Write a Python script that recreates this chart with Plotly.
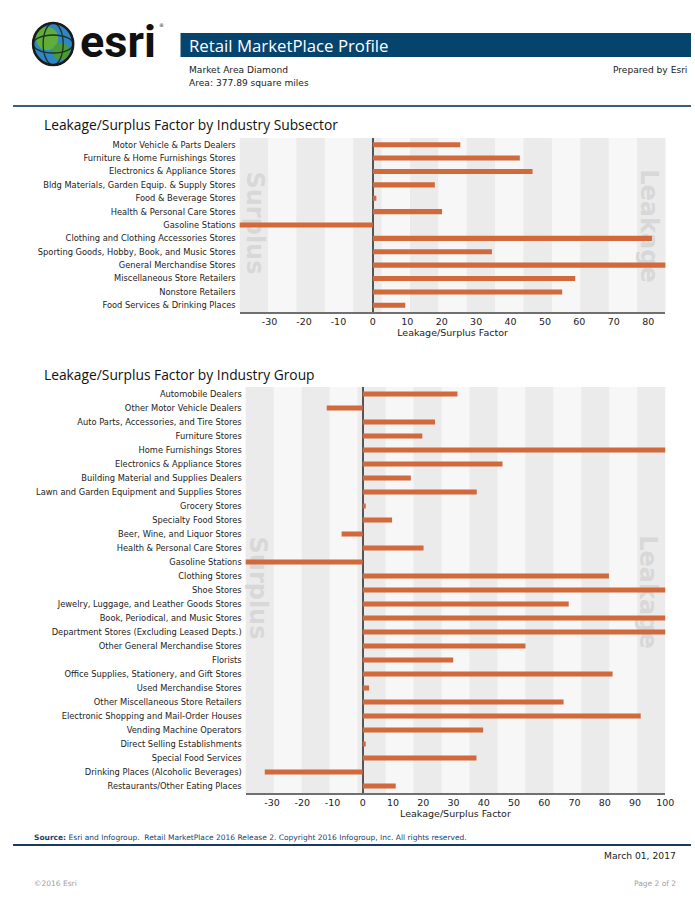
import plotly.graph_objects as go

# ---------------- data ----------------
subsector_labels = [
    "Motor Vehicle & Parts Dealers",
    "Furniture & Home Furnishings Stores",
    "Electronics & Appliance Stores",
    "Bldg Materials, Garden Equip. & Supply Stores",
    "Food & Beverage Stores",
    "Health & Personal Care Stores",
    "Gasoline Stations",
    "Clothing and Clothing Accessories Stores",
    "Sporting Goods, Hobby, Book, and Music Stores",
    "General Merchandise Stores",
    "Miscellaneous Store Retailers",
    "Nonstore Retailers",
    "Food Services & Drinking Places",
]
subsector_values = [25.4, 42.7, 46.4, 18.0, 1.0, 20.1, -41.0, 81.1, 34.6, 88.0, 58.8, 55.0, 9.4]

group_labels = [
    "Automobile Dealers",
    "Other Motor Vehicle Dealers",
    "Auto Parts, Accessories, and Tire Stores",
    "Furniture Stores",
    "Home Furnishings Stores",
    "Electronics & Appliance Stores",
    "Building Material and Supplies Dealers",
    "Lawn and Garden Equipment and Supplies Stores",
    "Grocery Stores",
    "Specialty Food Stores",
    "Beer, Wine, and Liquor Stores",
    "Health & Personal Care Stores",
    "Gasoline Stations",
    "Clothing Stores",
    "Shoe Stores",
    "Jewelry, Luggage, and Leather Goods Stores",
    "Book, Periodical, and Music Stores",
    "Department Stores (Excluding Leased Depts.)",
    "Other General Merchandise Stores",
    "Florists",
    "Office Supplies, Stationery, and Gift Stores",
    "Used Merchandise Stores",
    "Other Miscellaneous Store Retailers",
    "Electronic Shopping and Mail-Order Houses",
    "Vending Machine Operators",
    "Direct Selling Establishments",
    "Special Food Services",
    "Drinking Places (Alcoholic Beverages)",
    "Restaurants/Other Eating Places",
]
group_values = [31.3, -11.9, 23.9, 19.7, 105.0, 46.2, 15.9, 37.7, 1.0, 9.7, -7.0, 20.1,
                -41.0, 81.4, 105.0, 68.1, 105.0, 105.0, 53.8, 29.9, 82.6, 2.1, 66.4,
                91.9, 39.8, 1.0, 37.6, -32.4, 10.9]

top_ticks = [-30, -20, -10, 0, 10, 20, 30, 40, 50, 60, 70, 80]
top_tick_labels = ["-30", "-20", "-10", "0", "10", "20", "30", "40", "50", "60", "70", "80"]
bottom_ticks = [-30, -20, -10, 0, 10, 20, 30, 40, 50, 60, 70, 80, 90, 100]
bottom_tick_labels = ["-30", "-20", "-10", "0", "10", "20", "30", "40", "50", "60", "70",
                      "80", "90", "100"]

# ---------------- styling helpers ----------------
REF_W, H = 695, 900      # reference pixel grid
FIG_W = 706              # figure width (compensates horizontal compression seen in capture)
BAR = "#D2693B"
FONT = "DejaVu Sans"
TITLE_FONT = "Open Sans"


def px(x):
    return x / REF_W


def py(y):
    return 1 - y / H


fig = go.Figure()
fig.add_trace(go.Bar(x=subsector_values, y=subsector_labels, orientation="h",
                     marker=dict(color=BAR, line=dict(width=0)), width=0.38,
                     xaxis="x", yaxis="y", showlegend=False))
fig.add_trace(go.Bar(x=group_values, y=group_labels, orientation="h",
                     marker=dict(color=BAR, line=dict(width=0)), width=0.36,
                     xaxis="x2", yaxis="y2", showlegend=False))

common_x = dict(showgrid=False, zeroline=True, zerolinecolor="#555555", zerolinewidth=1.5,
                showline=True, linecolor="#707070", linewidth=2, ticks="",
                tickfont=dict(family=FONT, size=9.5, color="#222222"),
                title=dict(text="Leakage/Surplus Factor",
                           font=dict(family=FONT, size=9.5, color="#222222"), standoff=2),
                fixedrange=True)
common_y = dict(showgrid=False, zeroline=False, showline=False, ticks="",
                autorange="reversed", ticklabelstandoff=3,
                tickfont=dict(family=FONT, size=8.3, color="#222222"), fixedrange=True)

shapes = []
for ax in ["", "2"]:
    for i in range(0, 15, 2):
        shapes.append(dict(type="rect", xref=f"x{ax} domain", yref=f"y{ax} domain",
                           x0=i / 15, x1=(i + 1) / 15, y0=0, y1=1,
                           fillcolor="#ebebeb", line=dict(width=0), layer="below"))


def watermark(text, xc, yc, length):
    return dict(type="rect", xref="paper", yref="paper",
                x0=px(xc - 14), x1=px(xc + 14), y0=py(yc + length / 2), y1=py(yc - length / 2),
                fillcolor="rgba(0,0,0,0)", line=dict(width=0), layer="below",
                label=dict(text=text, textangle=90, textposition="middle center",
                           font=dict(family=FONT, size=24, color="#d8d8d8", weight="bold")))


shapes += [
    watermark("Surplus", 256, 223, 110),
    watermark("Leakage", 649, 226, 120),
    watermark("Surplus", 259, 588, 110),
    watermark("Leakage", 648, 592, 120),
]

# header graphics
shapes += [
    dict(type="rect", xref="paper", yref="paper", x0=px(180), x1=px(689), y0=py(57), y1=py(33),
         fillcolor="#06446E", line=dict(width=0)),
    dict(type="line", xref="paper", yref="paper", x0=px(13), x1=px(689), y0=py(106), y1=py(106),
         line=dict(color="#3d5c78", width=2)),
    dict(type="line", xref="paper", yref="paper", x0=px(13), x1=px(689), y0=py(845), y1=py(845),
         line=dict(color="#1b3a5c", width=2)),
    # globe
    dict(type="circle", xref="paper", yref="paper", x0=px(33), x1=px(73), y0=py(65), y1=py(23),
         fillcolor="#2f86c4", line=dict(color="#1f3322", width=1.5)),
    dict(type="circle", xref="paper", yref="paper", x0=px(36), x1=px(58), y0=py(50), y1=py(27),
         fillcolor="#5fae3a", line=dict(width=0)),
    dict(type="circle", xref="paper", yref="paper", x0=px(52), x1=px(70), y0=py(60), y1=py(43),
         fillcolor="#4a9a35", line=dict(width=0)),
    dict(type="circle", xref="paper", yref="paper", x0=px(43), x1=px(63), y0=py(65), y1=py(23),
         fillcolor="rgba(0,0,0,0)", line=dict(color="#1f3322", width=1.3)),
    dict(type="circle", xref="paper", yref="paper", x0=px(33), x1=px(73), y0=py(53), y1=py(35),
         fillcolor="rgba(0,0,0,0)", line=dict(color="#1f3322", width=1.3)),
    dict(type="circle", xref="paper", yref="paper", x0=px(33), x1=px(73), y0=py(65), y1=py(23),
         fillcolor="rgba(0,0,0,0)", line=dict(color="#1a1a1a", width=2.5)),
]

annotations = [
    dict(text="esri", x=px(78), y=py(41), xref="paper", yref="paper", xanchor="left",
         yanchor="middle", showarrow=False,
         font=dict(family="Roboto", size=45, color="#111111", weight="bold")),
    dict(text="®", x=px(157), y=py(25), xref="paper", yref="paper", xanchor="left",
         yanchor="middle", showarrow=False, font=dict(family=FONT, size=5, color="#111111")),
    dict(text="Retail MarketPlace Profile", x=px(186), y=py(45), xref="paper", yref="paper",
         xanchor="left", yanchor="middle", showarrow=False,
         font=dict(family=TITLE_FONT, size=16.8, color="white")),
    dict(text="Market Area Diamond", x=px(186), y=py(70), xref="paper", yref="paper",
         xanchor="left", yanchor="middle", showarrow=False,
         font=dict(family=FONT, size=9.1, color="#222222")),
    dict(text="Area: 377.89 square miles", x=px(186), y=py(83), xref="paper", yref="paper",
         xanchor="left", yanchor="middle", showarrow=False,
         font=dict(family=FONT, size=9.1, color="#222222")),
    dict(text="Prepared by Esri", x=px(687), y=py(70), xref="paper", yref="paper",
         xanchor="right", yanchor="middle", showarrow=False,
         font=dict(family=FONT, size=9.1, color="#222222")),
    dict(text="Leakage/Surplus Factor by Industry Subsector", x=px(42), y=py(125), xref="paper",
         yref="paper", xanchor="left", yanchor="middle", showarrow=False,
         font=dict(family=TITLE_FONT, size=13.8, color="#111111")),
    dict(text="Leakage/Surplus Factor by Industry Group", x=px(42), y=py(374), xref="paper",
         yref="paper", xanchor="left", yanchor="middle", showarrow=False,
         font=dict(family=TITLE_FONT, size=13.8, color="#111111")),
    dict(text="<b>Source:</b> Esri and Infogroup.  Retail MarketPlace 2016 Release 2. Copyright 2016 Infogroup, Inc. All rights reserved.",
         x=px(32), y=py(837), xref="paper", yref="paper", xanchor="left", yanchor="middle",
         showarrow=False, font=dict(family=FONT, size=7.5, color="#1c3f6e")),
    dict(text="March 01, 2017", x=px(676), y=py(855), xref="paper", yref="paper",
         xanchor="right", yanchor="middle", showarrow=False,
         font=dict(family=FONT, size=9.2, color="#222222")),
    dict(text="©2016 Esri", x=px(32), y=py(883), xref="paper", yref="paper",
         xanchor="left", yanchor="middle", showarrow=False,
         font=dict(family=FONT, size=7.5, color="#a0a0a0")),
    dict(text="Page 2 of 2", x=px(676), y=py(883), xref="paper", yref="paper",
         xanchor="right", yanchor="middle", showarrow=False,
         font=dict(family=FONT, size=7.5, color="#a0a0a0")),
]

fig.update_layout(
    width=FIG_W, height=H, autosize=False, margin=dict(l=0, r=0, t=0, b=0),
    paper_bgcolor="white", plot_bgcolor="#f7f7f7",
    bargap=0.6,
    xaxis=dict(common_x, domain=[px(239), px(663.5)], anchor="y", range=[-38.7, 85],
               tickvals=top_ticks, ticktext=top_tick_labels),
    yaxis=dict(common_y, domain=[py(312), py(138)], anchor="x"),
    xaxis2=dict(common_x, domain=[px(245), px(663.3)], anchor="y2", range=[-38.7, 100],
                tickvals=bottom_ticks, ticktext=bottom_tick_labels),
    yaxis2=dict(common_y, domain=[py(793), py(387)], anchor="x2"),
    shapes=shapes, annotations=annotations,
)

fig.write_html("out.html",
               config={"responsive": False, "displayModeBar": False},
               post_script="document.body.style.margin='0';document.body.style.overflow='hidden';")
